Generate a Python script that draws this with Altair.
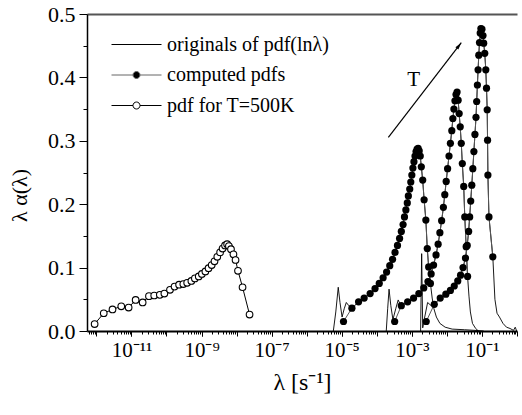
import altair as alt
import pandas as pd

FONT = "'Liberation Serif', 'Times New Roman', Times, serif"

# ---------------- data: log10(lambda) and lambda*alpha(lambda) ----------------
# pdf for T=500K (open circles)
t500_logx = [-12.05, -11.79, -11.54, -11.29, -11.08, -10.88, -10.68, -10.50, -10.35, -10.19,
             -10.06, -9.90, -9.77, -9.64, -9.52, -9.41, -9.29, -9.19, -9.08, -8.99,
             -8.89, -8.80, -8.71, -8.63, -8.55, -8.47, -8.40, -8.33, -8.27, -8.22,
             -8.16, -8.09, -8.03, -7.96, -7.83, -7.63]
t500_y = [0.011, 0.028, 0.034, 0.039, 0.037, 0.049, 0.045, 0.055, 0.056, 0.057,
          0.059, 0.065, 0.070, 0.073, 0.074, 0.076, 0.079, 0.083, 0.086, 0.090,
          0.094, 0.099, 0.104, 0.110, 0.117, 0.124, 0.130, 0.135, 0.137, 0.134,
          0.129, 0.121, 0.112, 0.095, 0.069, 0.026]

# computed pdfs (filled circles)
compA_logx = [-4.95, -4.71, -4.52, -4.36, -4.19, -4.05, -3.93, -3.82, -3.72, -3.63,
              -3.55, -3.48, -3.41, -3.35, -3.30, -3.25, -3.21, -3.17, -3.13, -3.10,
              -3.06, -3.03, -3.00, -2.97, -2.94, -2.91, -2.88, -2.85, -2.82, -2.79,
              -2.76, -2.73, -2.69, -2.65, -2.60, -2.56, -2.52, -2.47]
compA_y = [0.015, 0.036, 0.046, 0.052, 0.059, 0.067, 0.075, 0.084, 0.093, 0.103,
           0.113, 0.124, 0.135, 0.146, 0.157, 0.168, 0.180, 0.191, 0.202, 0.213,
           0.224, 0.235, 0.246, 0.257, 0.267, 0.276, 0.283, 0.287, 0.288, 0.284,
           0.276, 0.259, 0.238, 0.207, 0.175, 0.130, 0.101, 0.075]

compB_logx = [-3.49, -3.30, -3.12, -2.95, -2.80, -2.66, -2.54, -2.45, -2.38, -2.31,
              -2.25, -2.20, -2.15, -2.10, -2.06, -2.02, -1.98, -1.94, -1.90, -1.86,
              -1.83, -1.80, -1.77, -1.74, -1.71, -1.68, -1.65, -1.62, -1.59, -1.56,
              -1.52, -1.49, -1.45, -1.41]
compB_y = [0.015, 0.040, 0.046, 0.052, 0.059, 0.068, 0.078, 0.090, 0.104, 0.120,
           0.137, 0.155, 0.174, 0.195, 0.215, 0.236, 0.256, 0.276, 0.296, 0.316,
           0.335, 0.350, 0.363, 0.373, 0.377, 0.364, 0.343, 0.322, 0.296, 0.264,
           0.228, 0.180, 0.133, 0.086]

compC_logx = [-2.59, -2.36, -2.19, -2.03, -1.90, -1.79, -1.69, -1.61, -1.54, -1.47,
              -1.42, -1.38, -1.35, -1.32, -1.29, -1.26, -1.23, -1.20, -1.17, -1.15,
              -1.13, -1.11, -1.09, -1.07, -1.05, -1.03, -1.00, -0.97, -0.95, -0.92,
              -0.89, -0.87, -0.85, -0.84, -0.83, -0.80, -0.69]
compC_y = [0.015, 0.042, 0.052, 0.058, 0.064, 0.071, 0.079, 0.088, 0.100, 0.115,
           0.135, 0.157, 0.180, 0.205, 0.230, 0.256, 0.283, 0.310, 0.337, 0.362,
           0.388, 0.412, 0.435, 0.455, 0.470, 0.477, 0.476, 0.466, 0.454, 0.438,
           0.412, 0.383, 0.349, 0.301, 0.246, 0.180, 0.117]

# originals of pdf(ln lambda): low-end spikes and high-end tails (middle follows the computed pdfs)
origA_pre_logx = [-5.24, -5.17, -5.10, -5.05, -4.99, -4.93, -4.87, -4.80]
origA_pre_y = [0.0, 0.030, 0.069, 0.045, 0.022, 0.035, 0.045, 0.040]
origA_tail_logx = [-2.42, -2.37, -2.30, -2.20, -2.05, -1.85, -1.50, -1.20, -0.95]
origA_tail_y = [0.052, 0.035, 0.022, 0.012, 0.006, 0.003, 0.002, 0.001, 0.0]

origB_pre_logx = [-3.73, -3.69, -3.65, -3.60, -3.54, -3.46, -3.39, -3.34]
origB_pre_y = [0.0, 0.035, 0.066, 0.040, 0.018, 0.035, 0.049, 0.043]
origB_tail_logx = [-1.37, -1.33, -1.27, -1.18, -1.10]
origB_tail_y = [0.055, 0.030, 0.012, 0.004, 0.0]

origC_pre_logx = [-2.75, -2.72, -2.69, -2.64, -2.55, -2.45]
origC_pre_y = [0.0, 0.122, 0.005, 0.020, 0.045, 0.040]
origC_tail_logx = [-0.63, -0.57, -0.50, -0.40, -0.30, -0.20, -0.10, -0.05, -0.01]
origC_tail_y = [0.050, 0.028, 0.022, 0.012, 0.006, 0.004, 0.001, 0.006, 0.0]

# temperature arrow and label
arrow_logx = [-3.67, -1.59]
arrow_y = [0.3055, 0.4547]
arrow_text_logx = -2.95
arrow_text_y = 0.396
arrow_text = "T"

series_names = ["originals of pdf(lnλ)", "computed pdfs", "pdf for T=500K"]

x_label_decades = [-11, -9, -7, -5, -3, -1]
x_tick_labels = ["10⁻¹¹", "10⁻⁹", "10⁻⁷", "10⁻⁵", "10⁻³", "10⁻¹"]
y_tick_values = [0.0, 0.1, 0.2, 0.3, 0.4, 0.5]
y_minor_values = [0.05, 0.15, 0.25, 0.35, 0.45]
x_title = "λ [s⁻¹]"
y_title = "λ α(λ)"

# ---------------- tables ----------------
def frame(logx, y, group):
    return pd.DataFrame({"lam": [10 ** v for v in logx], "val": y, "group": group,
                         "idx": list(range(len(y)))})

df_comp = pd.concat([frame(compA_logx, compA_y, "A"),
                     frame(compB_logx, compB_y, "B"),
                     frame(compC_logx, compC_y, "C")])
df_orig = pd.concat([
    frame(origA_pre_logx + compA_logx[1:] + origA_tail_logx, origA_pre_y + compA_y[1:] + origA_tail_y, "A"),
    frame(origB_pre_logx + compB_logx[1:] + origB_tail_logx, origB_pre_y + compB_y[1:] + origB_tail_y, "B"),
    frame(origC_pre_logx + compC_logx[1:] + origC_tail_logx, origC_pre_y + compC_y[1:] + origC_tail_y, "C"),
])
df_500 = frame(t500_logx, t500_y, "T500")
df_arrow = pd.DataFrame({"lam": [10 ** arrow_logx[0]], "val": [arrow_y[0]],
                         "lam2": [10 ** arrow_logx[1]], "val2": [arrow_y[1]]})
df_head = pd.DataFrame({"lam": [10 ** arrow_logx[1]], "val": [arrow_y[1]]})
df_text = pd.DataFrame({"lam": [10 ** arrow_text_logx], "val": [arrow_text_y], "t": [arrow_text]})
df_leg = pd.DataFrame({"series": series_names, "lam": [1e-6] * 3, "val": [0.2] * 3})

# ---------------- scales & axes ----------------
xs = alt.Scale(type="log", domain=[5.4e-13, 1.0], nice=False)
ys = alt.Scale(domain=[0, 0.5], nice=False)

all_decades = [10.0 ** e for e in range(-12, 1)]
minor_vals = [m * 10.0 ** e for e in range(-13, 0) for m in range(2, 10)
              if 5.4e-13 <= m * 10.0 ** e <= 1.0]
label_arr = "[" + ",".join("'%s'" % s for s in x_tick_labels) + "]"
label_expr = label_arr + "[(round(log(datum.value)/LN10) + 11) / 2]"

x_main = alt.Axis(orient="bottom", values=[10.0 ** e for e in x_label_decades], labelExpr=label_expr,
                  tickSize=5, tickColor="black", domainColor="black", domainWidth=2,
                  labelFont=FONT, labelFontSize=21, labelColor="black", labelPadding=3,
                  labelFlush=False, labelOverlap=False, grid=False,
                  title=x_title, titleFont=FONT, titleFontSize=24, titleFontWeight="normal",
                  titleColor="black", titlePadding=10)
x_dec = alt.Axis(orient="bottom", values=all_decades, labels=False, tickSize=5, tickColor="black",
                 domain=False, grid=False, title=None)
x_min = alt.Axis(orient="bottom", values=minor_vals, labels=False, tickSize=3, tickColor="black",
                 domain=False, grid=False, title=None)
x_top = alt.Axis(orient="top", labels=False, ticks=False, domainColor="#555555", domainWidth=2,
                 grid=False, title=None)

y_main = alt.Axis(orient="left", values=y_tick_values, format=".1f", tickSize=8, tickColor="black",
                  domainColor="black", domainWidth=1.5, labelFont=FONT, labelFontSize=22,
                  labelColor="black", labelPadding=4, grid=False,
                  title=y_title, titleFont=FONT, titleFontSize=22, titleFontWeight="normal",
                  titleColor="black", titlePadding=16, titleY=181)
y_min = alt.Axis(orient="left", values=y_minor_values, labels=False, tickSize=4, tickColor="black",
                 domain=False, grid=False, title=None)

def X(axis):
    return alt.X("lam:Q", scale=xs, axis=axis)

def Y(axis):
    return alt.Y("val:Q", scale=ys, axis=axis)

orig_lines = alt.Chart(df_orig).mark_line(color="black", strokeWidth=0.9).encode(
    x=X(x_main), y=Y(y_main), detail="group:N", order="idx:Q")
comp_lines = alt.Chart(df_comp).mark_line(color="#555555", strokeWidth=1).encode(
    x=X(x_dec), y=Y(y_min), detail="group:N", order="idx:Q")
comp_pts = alt.Chart(df_comp).mark_circle(color="black", size=52, opacity=1).encode(
    x=X(x_min), y=Y(None))
t500_line = alt.Chart(df_500).mark_line(color="black", strokeWidth=1).encode(
    x=X(x_top), y=Y(None), order="idx:Q")
t500_pts = alt.Chart(df_500).mark_circle(fill="white", stroke="black", strokeWidth=1.1,
                                         size=44, opacity=1).encode(x=X(None), y=Y(None))
arrow = alt.Chart(df_arrow).mark_rule(color="black", strokeWidth=1.2).encode(
    x=X(None), y=Y(None), x2="lam2:Q", y2="val2:Q")
head = alt.Chart(df_head).mark_point(shape="M0,0L0.45,1.8L-0.45,1.8Z", filled=True, color="black",
                                     size=64, angle=37.5, opacity=1).encode(x=X(None), y=Y(None))
ttext = alt.Chart(df_text).mark_text(font=FONT, fontSize=21, color="black").encode(
    x=X(None), y=Y(None), text="t:N")

# legend symbols: sqrt(400)=20 px nominal, path drawn 10 px per unit, line spans 50 px
p_line = "M-1,0L4,0"
p_dot = ("M-1,0L1.15,0M1.85,0L4,0M1.85,0A0.35,0.35,0,1,1,1.15,0"
         "A0.35,0.35,0,1,1,1.85,0Z")
legend = alt.Legend(orient="none", legendX=24, legendY=20, title=None, symbolSize=400,
                    symbolStrokeWidth=1, labelFont=FONT, labelFontSize=20, labelColor="black",
                    labelOffset=35, rowPadding=9.5, labelLimit=400)
leg_layer = alt.Chart(df_leg).transform_filter("false").mark_point(opacity=1).encode(
    x=X(None), y=Y(None),
    shape=alt.Shape("series:N", scale=alt.Scale(domain=series_names, range=[p_line, p_dot, p_dot]),
                    legend=legend),
    fill=alt.Fill("series:N", scale=alt.Scale(domain=series_names,
                                              range=["transparent", "black", "white"]), legend=legend),
    stroke=alt.Stroke("series:N", scale=alt.Scale(domain=series_names,
                                                  range=["black", "#666666", "black"]), legend=legend),
)

chart = alt.layer(orig_lines, comp_lines, comp_pts, t500_line, t500_pts, arrow, head, ttext, leg_layer
                  ).resolve_axis(x="independent", y="independent").properties(
    width=430, height=317,
    autosize=alt.AutoSizeParams(type="none"),
    padding={"left": 87, "top": 14, "right": 5, "bottom": 84},
).configure(background="white", font=FONT).configure_view(stroke=None).configure_axis(
    labelFont=FONT, titleFont=FONT).configure_legend(labelFont=FONT).configure_text(font=FONT)

chart.save("out.html", embed_options={"renderer": "svg", "actions": False})
